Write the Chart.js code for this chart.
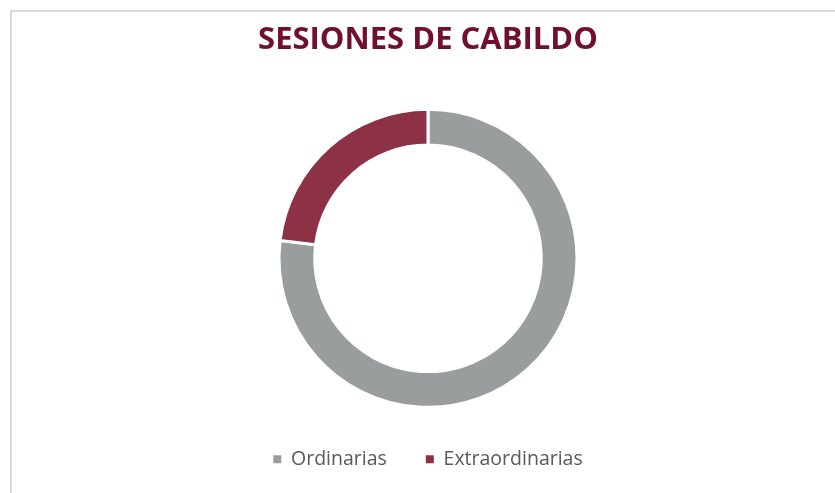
<!DOCTYPE html>
<html lang="es">
<head>
    <meta charset="UTF-8">
    <title>Sesiones de Cabildo</title>
    <style>
        body {
            margin: 0;
            padding: 0;
            background-color: #ffffff;
            overflow: hidden;
        }

        /* light frame that runs off the right and bottom edges */
        .frame {
            position: absolute;
            left: 10px;
            top: 10px;
            width: 900px;
            height: 600px;
            border: 2px solid #d9d9d9;
        }

        .chart-box {
            position: absolute;
            left: 0;
            top: 0;
            width: 835px;
            height: 493px;
        }
    </style>
</head>
<body>
    <div class="frame"></div>
    <div class="chart-box">
        <canvas id="donutChart" width="835" height="493"></canvas>
    </div>

    <script src="https://cdn.jsdelivr.net/npm/chart.js"></script>
    <script>
        // Data
        const categories = ['Ordinarias', 'Extraordinarias'];
        const sessionCounts = [10, 3];
        const sliceColors = ['#9a9d9e', '#8d3246'];

        const ctx = document.getElementById('donutChart').getContext('2d');
        new Chart(ctx, {
            type: 'doughnut',
            data: {
                labels: categories,
                datasets: [
                    {
                        data: sessionCounts,
                        backgroundColor: sliceColors,
                        borderColor: '#ffffff',
                        borderWidth: 3
                    }
                ]
            },
            options: {
                responsive: false,
                animation: false,
                radius: 149,
                cutout: '76%',
                layout: {
                    padding: { top: 0, bottom: 14, left: 21, right: 0 }
                },
                plugins: {
                    title: {
                        display: true,
                        text: 'SESIONES DE CABILDO',
                        color: '#70102e',
                        font: { family: "'Open Sans', sans-serif", size: 31, weight: 'bold' },
                        padding: { top: 22, bottom: 47 }
                    },
                    legend: {
                        position: 'bottom',
                        labels: {
                            boxWidth: 8,
                            boxHeight: 8,
                            padding: 39,
                            color: '#595959',
                            font: { family: "'Open Sans', sans-serif", size: 19.5 },
                            // plain squares, without the white slice border
                            generateLabels: function(chart) {
                                const items = Chart.overrides.doughnut.plugins.legend.labels.generateLabels(chart);
                                items.forEach(item => { item.lineWidth = 0; });
                                return items;
                            }
                        }
                    },
                    tooltip: { enabled: false }
                }
            }
        });
    </script>
</body>
</html>
